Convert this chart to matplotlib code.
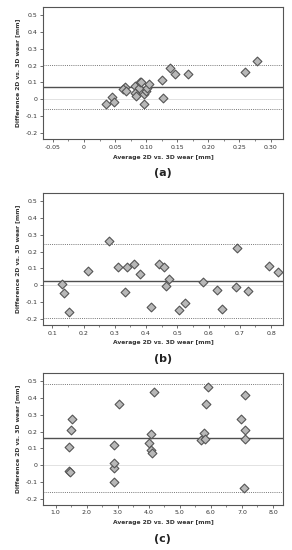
import matplotlib
matplotlib.use("Agg")
import matplotlib.pyplot as plt
import numpy as np
from matplotlib.ticker import AutoMinorLocator

# Panel (a)
a_x = [0.035, 0.045, 0.049, 0.066, 0.063, 0.067, 0.082, 0.082, 0.083, 0.089,
       0.090, 0.092, 0.096, 0.097, 0.100, 0.102, 0.105, 0.126, 0.127, 0.139,
       0.146, 0.168, 0.259, 0.278]
a_y = [-0.028, 0.016, -0.014, 0.071, 0.059, 0.049, 0.081, 0.039, 0.020, 0.067,
       0.101, 0.101, -0.028, 0.030, 0.052, 0.067, 0.091, 0.113, 0.008, 0.184,
       0.152, 0.148, 0.164, 0.226]
a_mean, a_lo, a_hi = 0.071, -0.056, 0.202
a_xticks = [-0.05, 0, 0.05, 0.10, 0.15, 0.20, 0.25, 0.30]
a_xlabels = ["-0.05", "0", "0.05", "0.10", "0.15", "0.20", "0.25", "0.30"]

# Panel (b)
b_x = [0.130, 0.138, 0.153, 0.213, 0.281, 0.310, 0.333, 0.340, 0.361, 0.380,
       0.417, 0.441, 0.459, 0.465, 0.475, 0.506, 0.524, 0.583, 0.627, 0.643,
       0.687, 0.690, 0.726, 0.793, 0.821]
b_y = [0.010, -0.047, -0.155, 0.085, 0.265, 0.108, -0.037, 0.108, 0.128, 0.067,
       -0.128, 0.124, 0.108, -0.006, 0.035, -0.145, -0.104, 0.020, -0.029, -0.142,
       -0.012, 0.224, -0.031, 0.114, 0.077]
b_mean, b_lo, b_hi = 0.0275, -0.193, 0.246
b_xticks = [0.1, 0.2, 0.3, 0.4, 0.5, 0.6, 0.7, 0.8]
b_xlabels = ["0.1", "0.2", "0.3", "0.4", "0.5", "0.6", "0.7", "0.8"]

# Panel (c)
c_x = [1.42, 1.42, 1.46, 1.48, 1.53, 2.87, 2.88, 2.88, 2.89, 3.03,
       4.00, 4.06, 4.08, 4.09, 4.17, 5.67, 5.77, 5.80, 5.83, 5.90,
       6.97, 7.06, 7.10, 7.10, 7.11]
c_y = [0.110, -0.032, -0.037, 0.207, 0.272, -0.097, 0.120, -0.014, 0.016, 0.365,
       0.130, 0.183, 0.093, 0.073, 0.432, 0.148, 0.191, 0.158, 0.361, 0.465,
       0.272, -0.136, 0.207, 0.158, 0.420]
c_mean, c_lo, c_hi = 0.164, -0.158, 0.485
c_xticks = [1, 2, 3, 4, 5, 6, 7, 8]
c_xlabels = ["1.0", "2.0", "3.0", "4.0", "5.0", "6.0", "7.0", "8.0"]

y_ticks = [-0.2, -0.1, 0, 0.1, 0.2, 0.3, 0.4, 0.5]
y_labels = ["-0.2", "-0.1", "0", "0.1", "0.2", "0.3", "0.4", "0.5"]

panels = [
    (a_x, a_y, a_mean, a_lo, a_hi, a_xticks, a_xlabels, (-0.066, 0.320), "(a)"),
    (b_x, b_y, b_mean, b_lo, b_hi, b_xticks, b_xlabels, (0.070, 0.838), "(b)"),
    (c_x, c_y, c_mean, c_lo, c_hi, c_xticks, c_xlabels, (0.59, 8.32), "(c)"),
]

# axes boxes in figure fraction: left, bottom, width, height
boxes = [
    [0.147, 0.747, 0.822, 0.240],
    [0.147, 0.409, 0.822, 0.2395],
    [0.147, 0.082, 0.822, 0.239],
]

fig = plt.figure(figsize=(2.92, 5.5), dpi=100)
frame_col = "#555555"

for (x, y, mean, lo, hi, xt, xl, xlim, tag), box in zip(panels, boxes):
    ax = fig.add_axes(box)
    ax.axhline(0, color="#dddddd", linewidth=0.6, zorder=1)
    ax.axhline(hi, color="#777777", linewidth=0.7, linestyle=(0, (1, 1.2)), zorder=1)
    ax.axhline(lo, color="#777777", linewidth=0.7, linestyle=(0, (1, 1.2)), zorder=1)
    ax.axhline(mean, color="#505050", linewidth=1.0, zorder=2)
    ax.scatter(x, y, marker="D", s=20, facecolor="#b8b8b8",
               edgecolor="#555555", linewidth=0.8, zorder=3)

    ax.set_xlim(*xlim)
    ax.set_ylim(-0.235, 0.545)
    ax.set_xticks(xt)
    ax.set_xticklabels(xl)
    ax.set_yticks(y_ticks)
    ax.set_yticklabels(y_labels)
    ax.xaxis.set_minor_locator(AutoMinorLocator(2))
    ax.tick_params(axis="both", which="major", labelsize=4.5, length=2.5,
                   width=0.6, color=frame_col, labelcolor="#333333", pad=1.5)
    ax.tick_params(axis="x", which="minor", length=1.5, width=0.5, color=frame_col)
    for s in ax.spines.values():
        s.set_color(frame_col)
        s.set_linewidth(0.8)

    ax.set_xlabel("Average 2D vs. 3D wear [mm]", fontsize=4.3, fontweight="bold",
                  color="#333333", labelpad=3.5)
    ax.set_ylabel("Difference 2D vs. 3D wear [mm]", fontsize=4.3, fontweight="bold",
                  color="#333333", labelpad=4)
    ax.text(0.5, -0.26, tag, transform=ax.transAxes, ha="center", va="center",
            fontsize=8, fontweight="bold", color="#222222")

fig.savefig("out.png", dpi=100)
